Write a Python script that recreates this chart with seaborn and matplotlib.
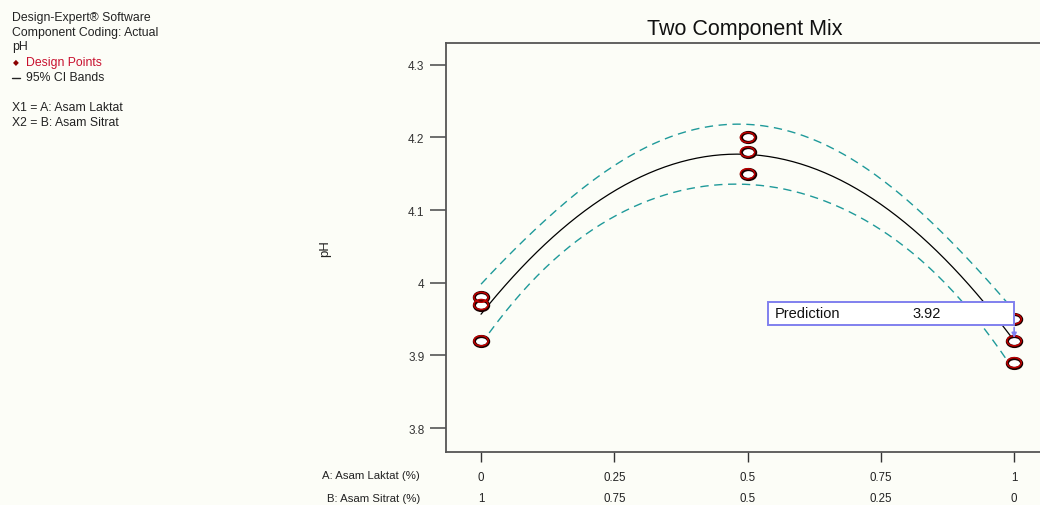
import numpy as np
import pandas as pd
import matplotlib
matplotlib.use("Agg")
import matplotlib.pyplot as plt
from matplotlib.path import Path
from matplotlib.markers import MarkerStyle
from matplotlib.transforms import Affine2D, blended_transform_factory
import seaborn as sns

# ---------------- data ----------------
laktat_design = [0, 0, 0, 0.5, 0.5, 0.5, 1, 1, 1]          # A: Asam Laktat fraction
ph_observed = [3.98, 3.97, 3.92, 4.20, 4.18, 4.15, 3.95, 3.92, 3.89]
x_ticks = [0, 0.25, 0.5, 0.75, 1]
a_labels = ["0", "0.25", "0.5", "0.75", "1"]
b_labels = ["1", "0.75", "0.5", "0.25", "0"]
y_ticks = [3.8, 3.9, 4.0, 4.1, 4.2, 4.3]
y_labels = ["3.8", "3.9", "4", "4.1", "4.2", "4.3"]
pred_x = 1.0
pred_value = 3.92
t_crit = 2.447  # t(0.975, df=6)

# ---------------- model fit (Scheffe quadratic mixture) ----------------
A = np.array(laktat_design, dtype=float)
B = 1 - A
Y = np.array(ph_observed)
X = np.column_stack([A, B, A * B])
beta, *_ = np.linalg.lstsq(X, Y, rcond=None)
resid = Y - X @ beta
mse = resid @ resid / (len(Y) - X.shape[1])
XtX_inv = np.linalg.inv(X.T @ X)

grid = np.linspace(0, 1, 201)
Xg = np.column_stack([grid, 1 - grid, grid * (1 - grid)])
fit = Xg @ beta
se = np.sqrt(np.einsum("ij,jk,ik->i", Xg, XtX_inv, Xg) * mse)
curve = pd.DataFrame({"x": grid, "fit": fit, "lo": fit - t_crit * se, "hi": fit + t_crit * se})
pts = pd.DataFrame({"x": laktat_design, "y": ph_observed})

# ---------------- style ----------------
sns.set_theme(style="white")
plt.rcParams["font.family"] = ["Liberation Sans", "DejaVu Sans"]
bg = "#fcfdf7"

fig = plt.figure(figsize=(10.4, 5.06), dpi=100, facecolor=bg)
ax = fig.add_axes([446 / 1040, 53 / 506, (1052 - 446) / 1040, 409 / 506])
ax.set_facecolor(bg)

# curves
sns.lineplot(data=curve, x="x", y="fit", ax=ax, color="black", lw=0.9, zorder=3)
for col in ["lo", "hi"]:
    sns.lineplot(data=curve, x="x", y=col, ax=ax, color="#1f9a9a", lw=1.0,
                 dashes=False, zorder=3).lines[-1].set_dashes([6, 4])

# ellipse markers
circ = Path.unit_circle()
ell = Path(Affine2D().scale(1.0, 0.70).transform(circ.vertices), circ.codes)
mk = MarkerStyle(ell)
sns.scatterplot(data=pts, x="x", y="y", ax=ax, marker=mk, s=105, facecolor="white",
                edgecolor="#1a0000", linewidth=2.3, zorder=5)
sns.scatterplot(data=pts, x="x", y="y", ax=ax, marker=mk, s=105, facecolor="none",
                edgecolor="#c00000", linewidth=1.1, zorder=6)

# axes limits / ticks
ax.set_xlim(-0.0657, 1.071)
ax.set_ylim(3.767, 4.330)
ax.set_xticks(x_ticks)
ax.set_xticklabels(a_labels, fontsize=8.3, color="#222222")
ax.set_yticks(y_ticks)
ax.set_yticklabels(y_labels, fontsize=8.5, color="#333333")
ax.tick_params(axis="y", direction="out", length=11.5, width=1.2, color="#555555", pad=4, left=True)
ax.tick_params(axis="x", direction="out", length=7, width=1.0, color="#333333", pad=7, bottom=True)
ax.set_xlabel("")
ax.set_ylabel("pH", fontsize=9.5, color="#222222", labelpad=55)
for sp in ax.spines.values():
    sp.set_color("#555555")
    sp.set_linewidth(1.3)

trans = blended_transform_factory(ax.transData, ax.transAxes)
for xv, lab in zip(x_ticks, b_labels):
    ax.text(xv, -0.113, lab, transform=trans, ha="center", va="center", fontsize=8.3, color="#222222")
fig.text(420 / 1040, 1 - 476 / 506, "A: Asam Laktat (%)", ha="right", va="center", fontsize=8.2, color="#222222")
fig.text(420 / 1040, 1 - 499 / 506, "B: Asam Sitrat (%)", ha="right", va="center", fontsize=8.2, color="#222222")

# title
fig.text(745 / 1040, 1 - 30 / 506, "Two Component Mix", ha="center", va="center", fontsize=15.5, color="#111111")

# prediction box
y_top = 4.0 - (303 - 284) / 726
y_bot = 4.0 - (326 - 284) / 726
x_left = (768 - 481) / 533
ax.add_patch(plt.Rectangle((x_left, y_bot), pred_x - x_left, y_top - y_bot, facecolor="white",
                           edgecolor="#8080ee", lw=1.4, zorder=7))
ax.annotate("", xy=(pred_x, pred_value), xytext=(pred_x, y_bot),
            arrowprops=dict(arrowstyle="-|>", color="#8080ee", lw=1.2, mutation_scale=7), zorder=8)
ax.text(x_left + 0.012, (y_top + y_bot) / 2, "Prediction", ha="left", va="center", fontsize=10.5,
        color="#111111", zorder=9)
ax.text((912 - 481) / 533, (y_top + y_bot) / 2, f"{pred_value:.2f}", ha="left", va="center",
        fontsize=10.5, color="#111111", zorder=9)

# left info block
info = [
    (12, 18, "Design-Expert® Software", "#222222"),
    (12, 33, "Component Coding: Actual", "#222222"),
    (12, 47, "pH", "#222222"),
    (26, 63, "Design Points", "#c8102e"),
    (26, 78, "95% CI Bands", "#222222"),
    (12, 108, "X1 = A: Asam Laktat", "#222222"),
    (12, 123, "X2 = B: Asam Sitrat", "#222222"),
]
for xx, yy, txt, c in info:
    fig.text(xx / 1040, 1 - yy / 506, txt, ha="left", va="center", fontsize=8.8, color=c)
fig.text(16 / 1040, 1 - 63 / 506, "◆", ha="center", va="center", fontsize=5.5, color="#8b0000",
         family=["DejaVu Sans"])
fig.add_artist(plt.Line2D([12 / 1040, 20 / 1040], [1 - 79 / 506, 1 - 79 / 506], color="#222222", lw=1.0))

fig.savefig("out.png", dpi=100, facecolor=bg)
